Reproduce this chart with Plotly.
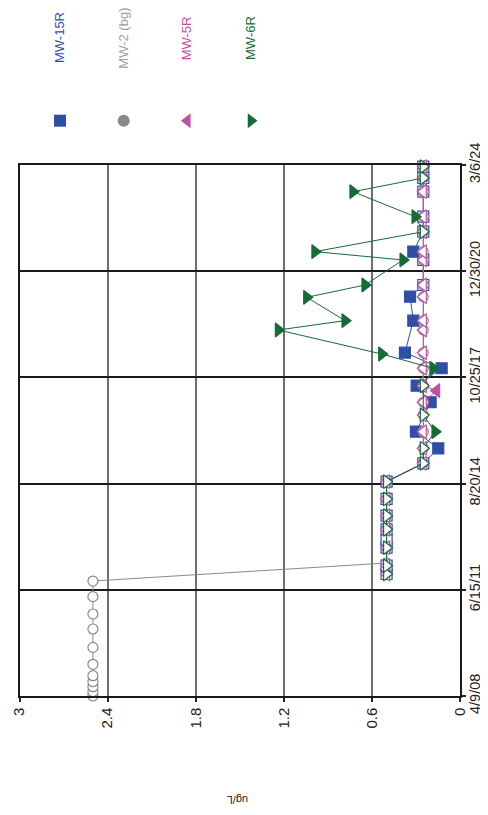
import plotly.graph_objects as go

# ---------------- data ----------------
date_ticks = ["2008-04-09", "2011-06-15", "2014-08-20", "2017-10-25", "2020-12-30", "2024-03-06"]
date_tick_labels = ["4/9/08", "6/15/11", "8/20/14", "10/25/17", "12/30/20", "3/6/24"]
value_ticks = [3, 2.4, 1.8, 1.2, 0.6, 0]
value_tick_labels = ["3", "2.4", "1.8", "1.2", "0.6", "0"]

series_names = ["MW-15R", "MW-2 (bg)", "MW-5R", "MW-6R"]

mw15r_dates = ["2011-12-05", "2012-03-05", "2012-09-18", "2012-12-11", "2013-04-07", "2013-09-03",
               "2014-03-05", "2014-09-10", "2015-03-30", "2015-09-10", "2016-03-10", "2017-01-26",
               "2017-07-26", "2018-02-02", "2018-07-22", "2019-07-08", "2020-03-26", "2020-08-01",
               "2021-05-02", "2021-08-01", "2022-03-07", "2022-08-19", "2023-05-19", "2023-10-16",
               "2024-02-17"]
mw15r_values = [0.5, 0.5, 0.5, 0.5, 0.5, 0.5, 0.5, 0.5, 0.25, 0.148, 0.30, 0.20,
                0.295, 0.125, 0.375, 0.318, 0.34, 0.25, 0.25, 0.318, 0.25, 0.25, 0.25, 0.25, 0.25]
mw15r_detect = [False] * 8 + [False, True, True, True, True, True, True, True, True,
                              False, False, True, False, False, False, False, False]

mw2_dates = ["2008-04-09", "2008-05-26", "2008-07-20", "2008-09-12", "2008-11-17", "2009-03-22",
             "2009-09-23", "2010-04-12", "2010-09-23", "2011-04-01", "2011-09-19", "2012-04-03",
             "2012-09-18", "2013-04-07", "2013-09-03", "2014-03-05", "2014-09-10", "2015-03-30",
             "2015-09-10", "2016-03-10", "2016-09-09", "2017-01-26", "2017-07-26", "2018-02-02",
             "2018-07-22", "2019-03-28", "2019-07-08", "2020-03-26", "2020-08-01", "2021-05-02",
             "2021-08-01", "2022-03-07", "2022-08-19", "2023-05-19", "2023-10-16", "2024-02-17"]
mw2_values = [2.5] * 11 + [0.5] * 6 + [0.25] * 19
mw2_detect = [False] * 36

mw5r_dates = ["2011-12-05", "2012-03-05", "2012-09-18", "2013-04-07", "2013-09-03", "2014-03-05",
              "2014-09-10", "2015-03-30", "2015-09-10", "2016-03-10", "2016-09-09", "2017-01-26",
              "2017-06-02", "2017-07-26", "2018-02-02", "2018-07-22", "2019-03-28", "2019-07-08",
              "2020-03-26", "2020-08-01", "2021-05-02", "2021-08-01", "2022-03-07", "2022-08-19",
              "2023-05-19", "2023-10-16", "2024-02-17"]
mw5r_values = [0.5] * 7 + [0.25, 0.25, 0.25, 0.25, 0.25, 0.159] + [0.25] * 14
mw5r_detect = [False] * 12 + [True] + [False] * 14

mw6r_dates = ["2011-12-05", "2012-03-05", "2012-09-18", "2013-04-07", "2013-09-03", "2014-03-05",
              "2014-09-10", "2015-03-30", "2015-09-10", "2016-03-10", "2016-09-09", "2017-07-26",
              "2018-02-02", "2018-07-08", "2019-03-28", "2019-07-08", "2020-03-19", "2020-08-01",
              "2021-05-02", "2021-08-01", "2022-03-07", "2022-08-19", "2023-05-19", "2023-10-16",
              "2024-02-17"]
mw6r_values = [0.5] * 7 + [0.25, 0.25, 0.17, 0.25, 0.25, 0.184, 0.533, 1.237, 0.783, 1.044,
                           0.647, 0.388, 0.988, 0.25, 0.306, 0.729, 0.25, 0.25]
mw6r_detect = [False] * 7 + [False, False, True, False, False, True, True, True, True, True,
                             True, True, True, False, True, True, False, False]

# ---------------- styles / layout ----------------
colors = ["#2F4FA6", "#8A8A8C", "#C24FA3", "#166B37"]
text_colors = ["#2F4FA6", "#A0A0A0", "#C24FA3", "#166B37"]
symbols = ["square", "circle", "triangle-left", "triangle-right"]
sizes = [11, 10, 12, 12]

W, H = 480, 799
plot_x_dom = [11.5 / W, 452.0 / W]
plot_y_dom = [(H - 688.0) / H, (H - 157.0) / H]
leg_y_dom = [(H - 120.7) / H, (H - 104.7) / H]

all_series = [
    (mw15r_dates, mw15r_values, mw15r_detect),
    (mw2_dates, mw2_values, mw2_detect),
    (mw5r_dates, mw5r_values, mw5r_detect),
    (mw6r_dates, mw6r_values, mw6r_detect),
]

fig = go.Figure()
for i, (d, v, det) in enumerate(all_series):
    c = colors[i]
    fig.add_trace(go.Scatter(
        x=v, y=d, mode="lines+markers", name=series_names[i],
        line=dict(color=c, width=1),
        marker=dict(symbol=symbols[i], size=sizes[i], opacity=1,
                    color=[c if k else "white" for k in det],
                    line=dict(color=c, width=1.2)),
        showlegend=False, cliponaxis=False,
    ))

# legend (rotated): swatches in a small subplot above the chart, rotated text annotations
leg_x0, leg_step = 0.092, 0.1445
leg_x = [leg_x0 + i * leg_step for i in range(len(series_names))]
fig.add_trace(go.Scatter(
    x=leg_x, y=[0] * len(leg_x), xaxis="x2", yaxis="y2", mode="markers",
    marker=dict(symbol=symbols, size=[12, 12, 13, 13], color=colors, opacity=1,
                line=dict(width=0)),
    showlegend=False, cliponaxis=False, hoverinfo="skip",
))

annotations = []
for i, nm in enumerate(series_names):
    annotations.append(dict(
        x=leg_x[i], y=(H - 30.0) / H, xref="x2", yref="paper", text=nm, showarrow=False,
        textangle=-90, xanchor="center", yanchor="middle",
        font=dict(size=13, color=text_colors[i]),
    ))
annotations.append(dict(
    x=230.0 / W, y=(H - 792.0) / H, xref="paper", yref="paper", text="ug/L", showarrow=False,
    textangle=180, xanchor="center", yanchor="middle", font=dict(size=11, color="#222222"),
))

fig.update_layout(
    width=W, height=H,
    margin=dict(l=0, r=0, t=0, b=0, autoexpand=False),
    paper_bgcolor="white", plot_bgcolor="white",
    font=dict(family="Liberation Sans, Arial, sans-serif", color="#222222"),
    annotations=annotations,
    xaxis=dict(
        domain=plot_x_dom, anchor="y",
        range=[3, 0], tickmode="array", tickvals=value_ticks, ticktext=value_tick_labels,
        tickangle=-90, ticks="outside", ticklen=4, tickcolor="#222222", tickwidth=1.5,
        showgrid=True, gridcolor="#6E6E6E", gridwidth=1.5,
        showline=True, linecolor="#1A1A1A", linewidth=1.5, mirror=True, zeroline=False,
        tickfont=dict(size=15, color="#222222"), automargin=False,
    ),
    yaxis=dict(
        domain=plot_y_dom, anchor="x",
        type="date", side="right", range=[date_ticks[0], date_ticks[-1]],
        tickmode="array", tickvals=date_ticks, ticktext=date_tick_labels,
        tickangle=-90, ticks="outside", ticklen=4, tickcolor="#222222", tickwidth=1.5,
        showgrid=True, gridcolor="#1A1A1A", gridwidth=1.5,
        showline=True, linecolor="#1A1A1A", linewidth=1.5, mirror=True, zeroline=False,
        tickfont=dict(size=14.5, color="#222222"), automargin=False,
        ticklabelstandoff=-3,
    ),
    xaxis2=dict(domain=plot_x_dom, anchor="y2", range=[0, 1], visible=False, fixedrange=True),
    yaxis2=dict(domain=leg_y_dom, anchor="x2", range=[-1, 1], visible=False, fixedrange=True),
)

fig.write_html("out.html")
